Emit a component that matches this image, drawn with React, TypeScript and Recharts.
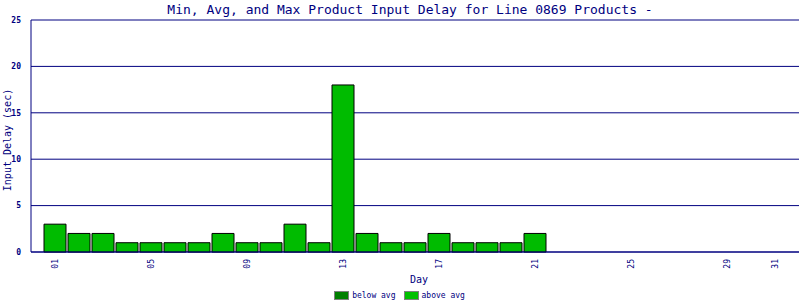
import { Bar, BarChart, CartesianGrid, XAxis, YAxis, Legend } from 'recharts';

// days of the month shown on the category axis
const days = Array.from({ length: 31 }, (_, i) => String(i + 1).padStart(2, '0'));
const tickDays = ['01', '05', '09', '13', '17', '21', '25', '29', '31'];
// average input delay (sec) per day, null where no data
const aboveAvg: (number | null)[] = [3, 2, 2, 1, 1, 1, 1, 2, 1, 1, 3, 1, 18, 2, 1, 1, 2, 1, 1, 1, 2,
  null, null, null, null, null, null, null, null, null, null];
const belowAvg: (number | null)[] = days.map(() => null);
const yTicks = [0, 5, 10, 15, 20, 25];

const NAVY = '#000080';
const MONO = '"DejaVu Sans Mono", "Liberation Mono", monospace';

const chartData = days.map((d, i) => ({ day: d, below: belowAvg[i], above: aboveAvg[i] }));

const LegendContent = () => (
  <div style={{ display: 'flex', justifyContent: 'center', gap: 8, fontFamily: MONO, fontSize: 8, color: NAVY, paddingTop: 3 }}>
    {[
      { label: 'below avg', color: '#008000' },
      { label: 'above avg', color: '#00c000' },
    ].map((item) => (
      <span key={item.label} style={{ display: 'flex', alignItems: 'center', gap: 3 }}>
        <span style={{ width: 13, height: 7, background: item.color, border: '1px solid #808080', display: 'inline-block' }} />
        {item.label}
      </span>
    ))}
  </div>
);

const App = () => {
  return (
    <div style={{ position: 'absolute', left: 0, top: 0, width: 800, height: 300, background: '#fff' }}>
      <div
        style={{
          position: 'absolute', left: 0, top: 2, width: 820, textAlign: 'center',
          fontFamily: MONO, fontSize: 13, color: NAVY, whiteSpace: 'nowrap',
        }}
      >
        Min, Avg, and Max Product Input Delay for Line 0869 Products -
      </div>
      <BarChart
        width={800}
        height={300}
        data={chartData}
        margin={{ top: 20, right: 1, bottom: 0, left: 0 }}
        barCategoryGap={1}
      >
        <CartesianGrid stroke={NAVY} strokeWidth={1} vertical={false} />
        <XAxis
          dataKey="day"
          ticks={tickDays}
          interval={0}
          padding={{ left: 12, right: 12 }}
          axisLine={{ stroke: NAVY }}
          tickLine={false}
          angle={-90}
          textAnchor="end"
          dx={-3}
          dy={-1}
          height={36}
          tick={{ fontSize: 8, fill: NAVY, fontFamily: MONO }}
          label={{ value: 'Day', position: 'insideBottom', offset: 5, fill: NAVY, fontSize: 10, fontFamily: MONO, dx: 4 }}
        />
        <YAxis
          domain={[0, 25]}
          ticks={yTicks}
          width={31}
          axisLine={{ stroke: NAVY }}
          tickLine={false}
          tickMargin={4}
          tick={{ fontSize: 8, fill: NAVY, fontFamily: MONO, fontWeight: 'bold' }}
          label={{ value: 'Input Delay (sec)', angle: -90, position: 'insideLeft', offset: 7, fill: NAVY, fontSize: 10, fontFamily: MONO, textAnchor: 'middle', dy: 4 }}
        />
        <YAxis yAxisId="right" orientation="right" width={0} tick={false} axisLine={{ stroke: NAVY }} tickLine={false} />
        <Legend verticalAlign="bottom" height={12} content={<LegendContent />} />
        <Bar dataKey="below" stackId="a" fill="#008000" stroke="#000" strokeWidth={1} isAnimationActive={false} />
        <Bar dataKey="above" stackId="a" fill="#00bb00" stroke="#000" strokeWidth={1} isAnimationActive={false} />
      </BarChart>
    </div>
  );
};

export default App;
